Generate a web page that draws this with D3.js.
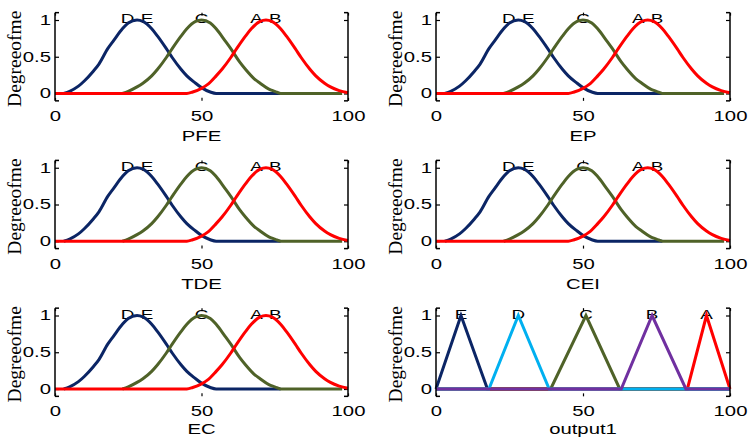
<!DOCTYPE html>
<html>
<head>
<meta charset="utf-8">
<script src="https://cdn.jsdelivr.net/npm/d3@7"></script>
<style>
  body { margin: 0; background: #fff; }
</style>
</head>
<body>
<div id="chart"></div>
<script>
// panel titles, in reading order (last one is the output variable)
const inputNames = ['PFE', 'EP', 'TDE', 'CEI', 'EC']
const outputName = 'output1'
const yLabel = 'Degreeofme'

const xTicks = [0, 50, 100]
const yTicks = [0, 0.5, 1]

// input membership functions
const deX = [3, 5, 8, 10, 13, 15, 18, 20, 23, 25, 28, 30, 33, 35, 38, 40, 43, 45, 48, 50, 53, 55, 77]
const deY = [0, 0.03, 0.1, 0.17, 0.3, 0.4, 0.61, 0.72, 0.88, 0.96, 1, 0.98, 0.88, 0.78, 0.61, 0.49, 0.33, 0.24, 0.14, 0.08, 0.02, 0, 0]
const cX = [23, 25, 28, 30, 33, 35, 38, 40, 43, 45, 48, 50, 53, 55, 58, 60, 63, 65, 68, 70, 73, 75, 77, 98]
const cY = [0, 0.03, 0.09, 0.14, 0.24, 0.33, 0.49, 0.61, 0.78, 0.88, 0.98, 1, 0.96, 0.88, 0.72, 0.61, 0.43, 0.33, 0.2, 0.14, 0.06, 0.03, 0, 0]
const abX = [0, 45, 47, 50, 52, 55, 57, 60, 62, 65, 67, 70, 72, 74, 77, 79, 82, 84, 87, 89, 92, 94, 97, 100]
const abY = [0, 0, 0.02, 0.07, 0.12, 0.24, 0.33, 0.49, 0.61, 0.78, 0.88, 0.98, 1, 0.98, 0.88, 0.78, 0.61, 0.49, 0.33, 0.24, 0.14, 0.09, 0.04, 0.01]
const inLabels = ['D-E', 'C', 'A-B']
const inPeaks = [28, 50, 72]
const inColors = ['#0b2565', '#4f6228', '#ff0000']

// output triangles: [foot, peak, foot], listed in drawing order
const outLabels = ['E', 'A', 'C', 'D', 'B']
const outFeet = [[0, 8.5, 17.5], [85.5, 92, 100], [39, 51, 62.5], [18, 28, 38.5], [63, 73.5, 85]]
const outColors = ['#0b2565', '#ff0000', '#4f6228', '#00b0f0', '#7030a0']

const W = 749, H = 438
const colLeft = [55, 436]
const colRight = [348, 730]
const rowOne = 20        // pixel y of value 1 in first row
const rowStep = 147.75
const unit = 73.5        // pixels per membership unit
const stretch = 1.45     // sans text in the figure is horizontally stretched

const svg = d3.select('#chart').append('svg')
  .attr('width', W)
  .attr('height', H)
  .style('font-family', '"Liberation Sans", Arial, sans-serif')

const line = d3.line().curve(d3.curveMonotoneX)

const names = inputNames.concat([outputName])

names.forEach((name, i) => {
  const col = i % 2
  const row = Math.floor(i / 2)
  const yOne = rowOne + row * rowStep
  const x = d3.scaleLinear([0, 100], [colLeft[col], colRight[col]])
  const y = d3.scaleLinear([-0.1, 1.1], [yOne + 1.1 * unit, yOne - 0.1 * unit])
  const top = y(1.1), bottom = y(-0.1)
  const g = svg.append('g')

  // rotated y label (serif, overlaps tick labels like the original)
  g.append('text')
    .attr('transform', `translate(${x(0) - 34},${(top + bottom) / 2 + 2}) rotate(-90)`)
    .attr('text-anchor', 'middle')
    .style('font-family', '"Liberation Serif", "Times New Roman", serif')
    .style('font-size', '19.5px')
    .text(yLabel)

  // axes: ticks inward, labels stretched
  const left = g.append('g')
    .attr('transform', `translate(${x(0)},0)`)
    .call(d3.axisLeft(y).tickValues(yTicks).tickSize(-4).tickPadding(4 / stretch).tickFormat(d3.format('')))
  const bot = g.append('g')
    .attr('transform', `translate(0,${bottom})`)
    .call(d3.axisBottom(x).tickValues(xTicks).tickSize(-3).tickPadding(10).tickFormat(d3.format('')))
  const right = g.append('g')
    .attr('transform', `translate(${x(100)},0)`)
    .call(d3.axisRight(y).tickValues(yTicks).tickSize(-4).tickFormat(''))
  const topAx = g.append('g')
    .attr('transform', `translate(0,${top})`)
    .call(d3.axisTop(x).tickValues(xTicks).tickSize(-3).tickFormat(''))

  ;[left, bot, right, topAx].forEach(a => {
    a.select('.domain').remove()
    a.attr('font-family', null).attr('font-size', null)
    a.selectAll('line').attr('stroke', '#000').attr('stroke-width', 1.2)
  })
  ;[left, bot].forEach(a => {
    a.selectAll('text')
      .style('font-size', '14px')
      .attr('fill', '#000')
      .attr('transform', `scale(${stretch},1)`)
  })
  bot.selectAll('text').attr('x', 0)

  // axis title (bottom row sits right at the page edge, nudge it up a bit)
  const titleY = Math.min(bottom + 40, H - 4)
  g.append('text')
    .attr('transform', `translate(${(x(0) + x(100)) / 2},${titleY}) scale(${stretch},1)`)
    .attr('text-anchor', 'middle')
    .style('font-size', '14px')
    .text(name)

  // set labels (drawn under the curves)
  const labels = i < 5 ? inLabels : outLabels
  const peaks = i < 5 ? inPeaks : outFeet.map(f => f[1])
  labels.forEach((lab, j) => {
    g.append('text')
      .attr('transform', `translate(${x(peaks[j])},${y(1) + 3}) scale(${stretch},1)`)
      .attr('text-anchor', 'middle')
      .style('font-size', '13px')
      .text(lab)
  })

  // membership curves
  if (i < 5) {
    const sets = [[deX, deY], [cX, cY], [abX, abY]]
    sets.forEach(([xs, ys], j) => {
      g.append('path')
        .attr('d', line(xs.map((v, k) => [x(v), y(ys[k])])))
        .attr('fill', 'none')
        .attr('stroke', inColors[j])
        .attr('stroke-width', 3)
        .attr('stroke-linejoin', 'round')
    })
  } else {
    outFeet.forEach((f, j) => {
      const pts = [[0, 0], [f[0], 0], [f[1], 1], [f[2], 0], [100, 0]]
      g.append('path')
        .attr('d', d3.line()(pts.map(p => [x(p[0]), y(p[1])])))
        .attr('fill', 'none')
        .attr('stroke', outColors[j])
        .attr('stroke-width', 3)
    })
  }

  // frame: left/right sides with little corner stubs (top/bottom lines faded out)
  const frame = g.append('g').attr('stroke', '#000').attr('stroke-width', 1.5).attr('fill', 'none')
  frame.append('line').attr('x1', x(0)).attr('x2', x(0)).attr('y1', top).attr('y2', bottom)
  frame.append('line').attr('x1', x(100)).attr('x2', x(100)).attr('y1', top).attr('y2', bottom)
  ;[top, bottom].forEach(yy => {
    frame.append('line').attr('x1', x(0)).attr('x2', x(0) + 4).attr('y1', yy).attr('y2', yy)
    frame.append('line').attr('x1', x(100) - 4).attr('x2', x(100)).attr('y1', yy).attr('y2', yy)
  })
})
</script>
</body>
</html>
